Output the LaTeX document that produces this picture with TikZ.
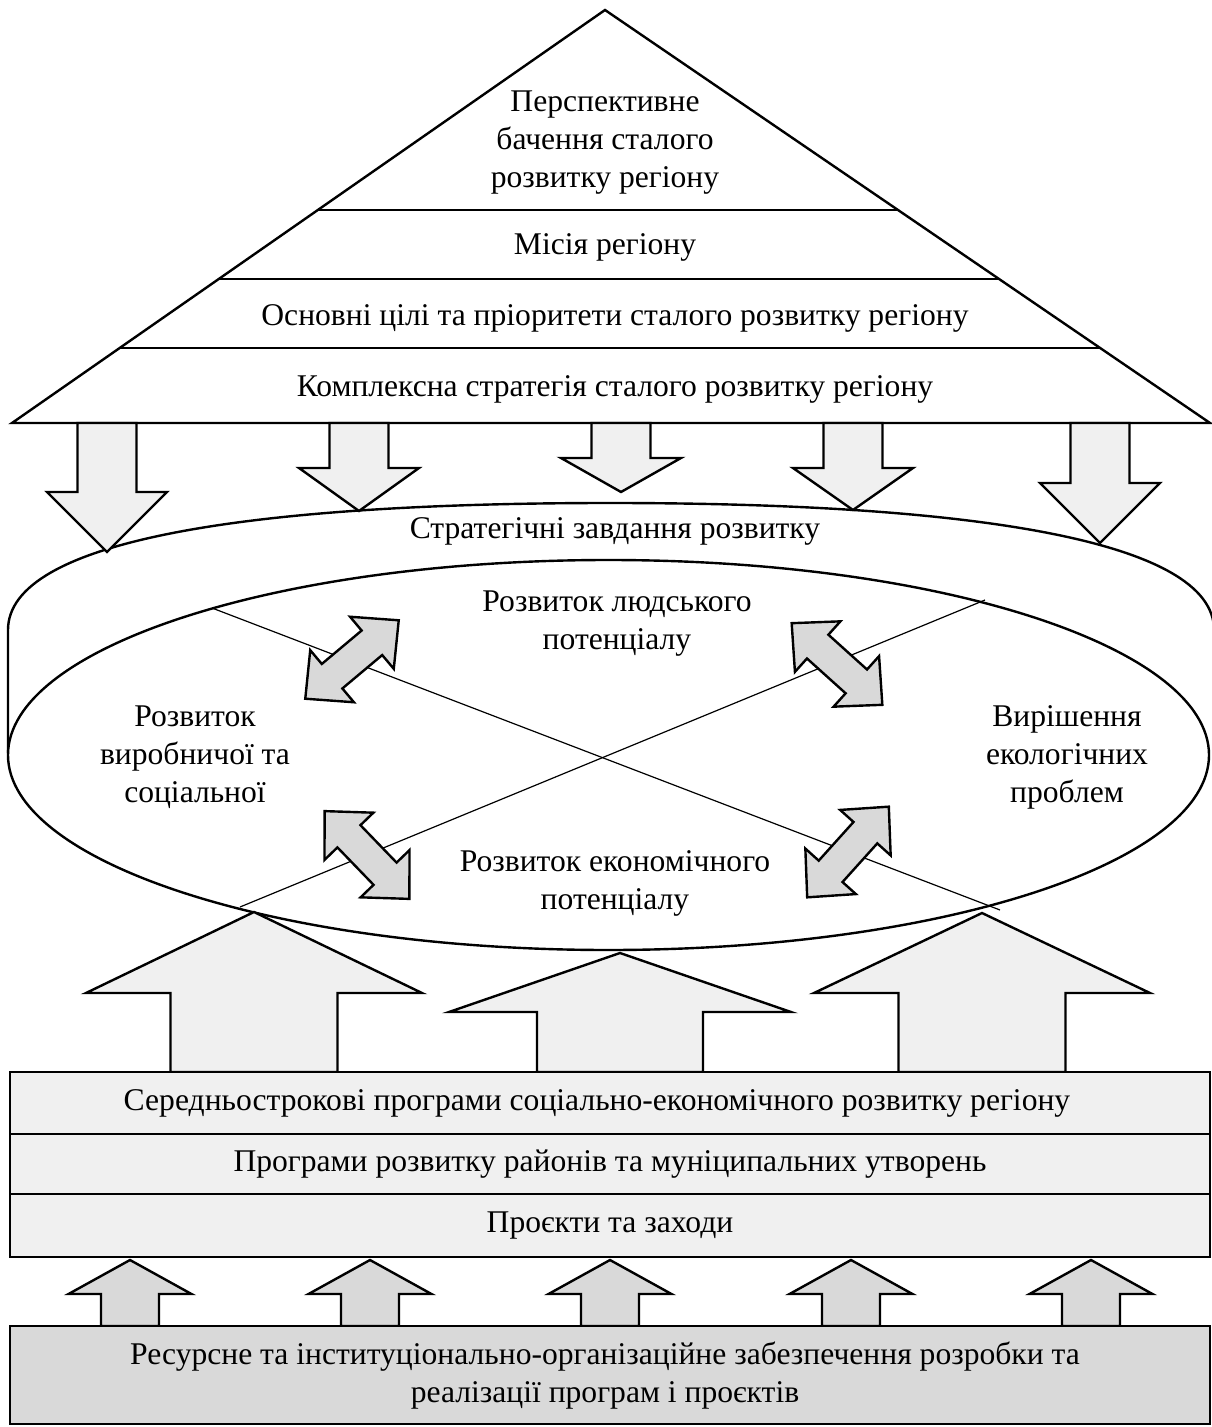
\documentclass[tikz,border=0pt]{standalone}
\usepackage{fontspec}
\setmainfont{Liberation Serif}
\usetikzlibrary{calc}
\tikzset{
  outl/.style={draw,line width=1.2pt},
  pale/.style={outl,fill=black!6},
  grey/.style={outl,fill=black!15},
  thin/.style={draw,line width=0.6pt},
  lbl/.style={align=center,font=\fontsize{15.8}{19}\selectfont,inner sep=0pt},
}
%% block arrow: style, x, tip y, head y, base y, head half width, shaft half width
\newcommand{\blkarr}[7]{%
  \draw[#1] ({#2-#7},#5) -- ({#2-#7},#4) -- ({#2-#6},#4) -- (#2,#3)
    -- ({#2+#6},#4) -- ({#2+#7},#4) -- ({#2+#7},#5) -- cycle;}
%% double block arrow: centre, angle
\newcommand{\dblarr}[2]{%
  \draw[grey,shift={#1},rotate=#2] (-61,0) -- (-26,34) -- (-26,16) -- (26,16)
    -- (26,34) -- (61,0) -- (26,-34) -- (26,-16) -- (-26,-16) -- (-26,-34) -- cycle;}
\begin{document}
\begin{tikzpicture}[x=0.5pt,y=-0.5pt]
    \useasboundingbox (0,0) rectangle (1211,1427);
    %% Pyramid
    \coordinate (apex) at (605,10);
    \coordinate (bl) at (12,423);
    \coordinate (br) at (1210,423);
    \draw[outl,fill=white] (apex) -- (br) -- (bl) -- cycle;
    \draw[thin] ($(bl)!0.5157!(apex)$) -- ($(br)!0.5157!(apex)$);
    \draw[thin] ($(bl)!0.3487!(apex)$) -- ($(br)!0.3487!(apex)$);
    \draw[thin] ($(bl)!0.1816!(apex)$) -- ($(br)!0.1816!(apex)$);
    \node[lbl] (vision) at (605,143) {Перспективне\\бачення сталого\\розвитку регіону};
    \node[lbl] (mission) at (605,247) {Місія регіону};
    \node[lbl] (goals) at (615,318) {Основні цілі та пріоритети сталого розвитку регіону};
    \node[lbl] (strategy) at (615,389) {Комплексна стратегія сталого розвитку регіону};
    %% Outer band of tasks
    \draw[outl] (8,753) -- (8,630) .. controls (8,540) and (250,503) .. (610,503)
        .. controls (970,503) and (1214,540) .. (1214,630) -- (1214,753);
    \node[lbl] (tasks) at (615,531) {Стратегічні завдання розвитку};
    %% Arrows down
    \blkarr{pale}{107}{552}{492}{423}{60}{29.5}
    \blkarr{pale}{359}{511}{468}{423}{60}{29.5}
    \blkarr{pale}{621}{492}{458}{423}{60}{29.5}
    \blkarr{pale}{853}{510}{468}{423}{60}{29.5}
    \blkarr{pale}{1100}{543}{483}{423}{60}{29.5}
    %% Inner ellipse
    \draw[outl,fill=white] (608.5,755) ellipse [x radius=600.5, y radius=195];
    \coordinate (c1) at (212,608);
    \coordinate (c2) at (1000,910);
    \coordinate (c3) at (240,907);
    \coordinate (c4) at (985,600);
    \draw[thin] (c1) -- (c2);
    \draw[thin] (c3) -- (c4);
    \dblarr{(352,659.5)}{40}
    \dblarr{(837,664)}{-42}
    \dblarr{(367,855)}{-46}
    \dblarr{(848,852)}{48}
    \node[lbl] (human) at (617,624) {Розвиток людського\\потенціалу};
    \node[lbl] (infra) at (195,757) {Розвиток\\виробничої та\\соціальної};
    \node[lbl] (ecol) at (1067,757) {Вирішення\\екологічних\\проблем};
    \node[lbl] (econ) at (615,883) {Розвиток економічного\\потенціалу};
    %% Arrows up
    \blkarr{pale}{254}{912}{993}{1072}{168}{83.5}
    \blkarr{pale}{620}{953}{1012}{1072}{171}{83}
    \blkarr{pale}{982}{913}{993}{1072}{168}{83.5}
    %% Programmes
    \draw[pale] (10,1072) rectangle (1210,1134);
    \draw[pale] (10,1134) rectangle (1210,1194);
    \draw[pale] (10,1194) rectangle (1210,1257);
    \node[lbl] (midterm) at (597,1103) {Середньострокові програми соціально-економічного розвитку регіону};
    \node[lbl] (districts) at (610,1164) {Програми розвитку районів та муніципальних утворень};
    \node[lbl] (projects) at (610,1226) {Проєкти та заходи};
    %% Resources
    \foreach \px in {130,370,610,851,1091}
        \blkarr{grey}{\px}{1260}{1294}{1326}{61.5}{29};
    \draw[grey] (10,1326) rectangle (1210,1424);
    \node[lbl] (resources) at (605,1376) {Ресурсне та інституціонально-організаційне забезпечення розробки та\\реалізації програм і проєктів};
\end{tikzpicture}
\end{document}
